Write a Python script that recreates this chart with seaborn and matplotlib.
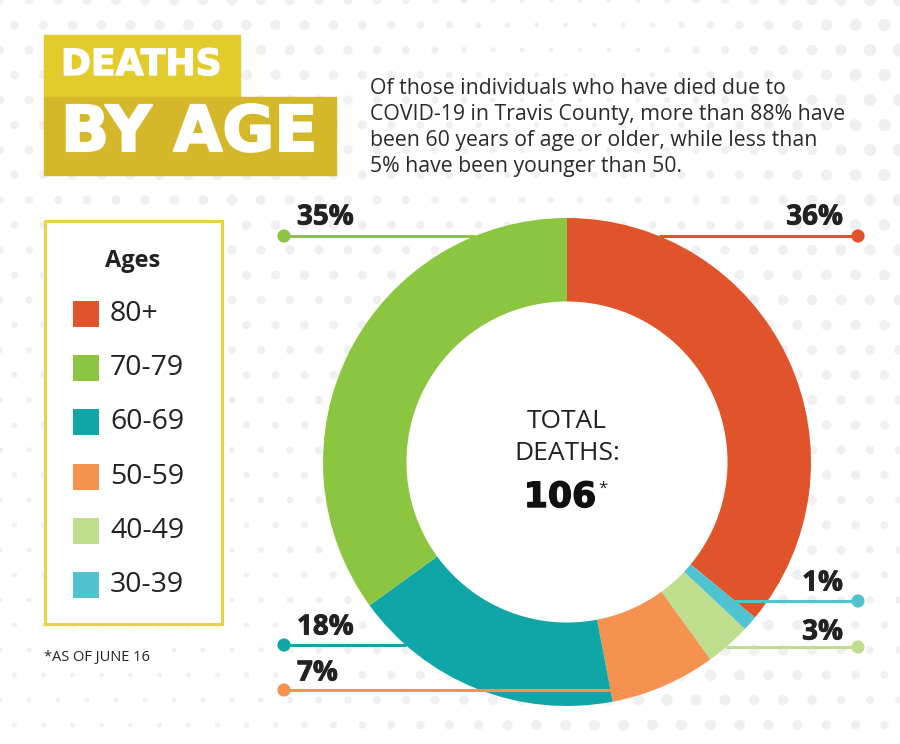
import numpy as np
import pandas as pd
import matplotlib
matplotlib.use("Agg")
import matplotlib.pyplot as plt
from matplotlib.patches import Rectangle
import matplotlib.patheffects as pe
import seaborn as sns

# ---------------- data ----------------
ages = ["80+", "30-39", "40-49", "50-59", "60-69", "70-79"]          # clockwise from top
shares = [36, 1, 3, 7, 18, 35]                                         # percent of deaths
colors = ["#E1532A", "#4FC3CF", "#BEDD8D", "#F5924F", "#10A6A8", "#8CC53F"]
legend_order = ["80+", "70-79", "60-69", "50-59", "40-49", "30-39"]
total_deaths = 106
title_top = "DEATHS"
title_bottom = "BY AGE"
intro_lines = [
    "Of those individuals who have died due to",
    "COVID-19 in Travis County, more than 88% have",
    "been 60 years of age or older, while less than",
    "5% have been younger than 50.",
]
footnote = "*AS OF JUNE 16"

# ---------------- layout ----------------
W, H = 900, 744
sns.set_theme(style="white")
plt.rcParams["font.family"] = ["Open Sans", "DejaVu Sans"]
TXT = "#222222"
HEAVY = ["DejaVu Sans"]

fig = plt.figure(figsize=(W / 100, H / 100), dpi=100)
ax = fig.add_axes([0, 0, 1, 1])


def Y(y):
    return H - y


# halftone background (decoration)
gx, gy = np.meshgrid(np.arange(0, W + 30, 29.0), np.arange(0, H + 30, 25.0))
gx = gx + (np.arange(gx.shape[0])[:, None] % 2) * 14.5
wave = 0.5 + 0.5 * np.sin(gx / 140.0 + 0.6) * np.cos(gy / 170.0 - 0.4)
fade = np.clip(0.35 + gx / W - 0.35 * (gy / H) ** 2, 0.15, 1.0)
ax.scatter(gx.ravel(), Y(gy.ravel()), s=(10 + 90 * (wave * fade).ravel()), color="#f0f0f0",
           edgecolor="none", zorder=0)

cx, cy, R = 567, 462, 244
ring = 0.345 * R
ax.pie(shares, colors=colors, startangle=90, counterclock=False,
       center=(cx, Y(cy)), radius=R,
       wedgeprops=dict(width=ring, edgecolor="none", linewidth=0))

# white inner disk to hide halftone
ax.add_patch(plt.Circle((cx, Y(cy)), R - ring, color="white", zorder=1))

# leader lines
label_pos = {
    "80+": ("right", 236, 217),
    "70-79": ("left", 236, 217),
    "60-69": ("left", 645, 627),
    "50-59": ("left", 690, 673),
    "40-49": ("right", 647, 632),
    "30-39": ("right", 601, 583),
}
cum = np.concatenate([[0], np.cumsum(shares)])
dots = []
for i, (age, sh, col) in enumerate(zip(ages, shares, colors)):
    side, ly, ty = label_pos[age]
    t1 = 90 - cum[i] * 3.6
    t2 = 90 - cum[i + 1] * 3.6
    dot_x = 284 if side == "left" else 858
    far_x = cx + R if side == "left" else cx - R
    xs = np.linspace(dot_x, far_x, 6000)
    dx = xs - cx
    dy = Y(ly) - Y(cy)
    r = np.hypot(dx, dy)
    ang = np.degrees(np.arctan2(dy, dx))
    ang = np.where(ang > t1, ang - 360, ang)
    inside = (r <= R) & (r >= R - ring) & (ang <= t1) & (ang >= t2)
    end_x = xs[np.argmax(inside)]
    ax.plot([dot_x, end_x], [Y(ly), Y(ly)], color=col, lw=2.2, zorder=3,
            solid_capstyle="butt")
    dots.append(dict(x=dot_x, y=Y(ly), age=age))
    ax.text(297 if side == "left" else 843, Y(ty), f"{sh}%",
            ha="left" if side == "left" else "right", va="center",
            fontsize=20, fontweight="bold", color=TXT, zorder=4,
            path_effects=[pe.withStroke(linewidth=0.6, foreground=TXT)])

dots_df = pd.DataFrame(dots)
sns.scatterplot(data=dots_df, x="x", y="y", hue="age", palette=dict(zip(ages, colors)),
                s=90, edgecolor="none", legend=False, ax=ax, zorder=4)

# center text
ax.text(cx, Y(422), "TOTAL", ha="center", va="center", fontsize=19, color=TXT, zorder=5)
ax.text(cx, Y(454), "DEATHS:", ha="center", va="center", fontsize=19, color=TXT, zorder=5)
ax.text(cx - 7, Y(497), f"{total_deaths}", ha="center", va="center", fontsize=25,
        fontweight="bold", family=HEAVY, color="#111111", zorder=5,
        path_effects=[pe.withStroke(linewidth=1.0, foreground="#111111")])
ax.text(cx + 31, Y(489), "*", ha="left", va="center", fontsize=12, color=TXT, zorder=5)

# title boxes
ax.add_patch(Rectangle((44, Y(97)), 196, 62, color="#E4CB2C", zorder=2))
ax.add_patch(Rectangle((44, Y(175)), 292, 78, color="#D5B829", zorder=2))
ax.text(61, Y(65), title_top, ha="left", va="center", fontsize=26, fontweight="bold",
        family=HEAVY, color="white", zorder=3,
        path_effects=[pe.withStroke(linewidth=1.0, foreground="white")])
ax.text(61, Y(134), title_bottom, ha="left", va="center", fontsize=45.5, fontweight="bold",
        family=HEAVY, color="white", zorder=3,
        path_effects=[pe.withStroke(linewidth=1.5, foreground="white")])

# intro paragraph
for k, line in enumerate(intro_lines):
    ax.text(370, Y(88 + 26.3 * k), line, ha="left", va="center", fontsize=15.3,
            color="#2a2a2a", zorder=3)

# legend box
ax.add_patch(Rectangle((45, Y(624)), 177, 403, facecolor="white", edgecolor="#E9D43D",
                       lw=2.2, zorder=2))
ax.text(133, Y(261), "Ages", ha="center", va="center", fontsize=17, fontweight="bold",
        color=TXT, zorder=3)
leg_df = pd.DataFrame({"age": legend_order,
                       "x": [86] * len(legend_order),
                       "y": [Y(314 + 54.2 * k) for k in range(len(legend_order))]})
sns.scatterplot(data=leg_df, x="x", y="y", hue="age", palette=dict(zip(ages, colors)),
                marker="s", s=350, edgecolor="none", legend=False, ax=ax, zorder=3)
for _, row in leg_df.iterrows():
    ax.text(110, row["y"], row["age"], ha="left", va="center", fontsize=20.5,
            color=TXT, zorder=3)

ax.text(44, Y(657), footnote, ha="left", va="center", fontsize=10.5, color=TXT, zorder=3)

ax.set_xlim(0, W)
ax.set_ylim(0, H)
ax.set_aspect("equal")
ax.axis("off")
ax.set_position([0, 0, 1, 1])
fig.savefig("out.png", dpi=100, facecolor="white")
